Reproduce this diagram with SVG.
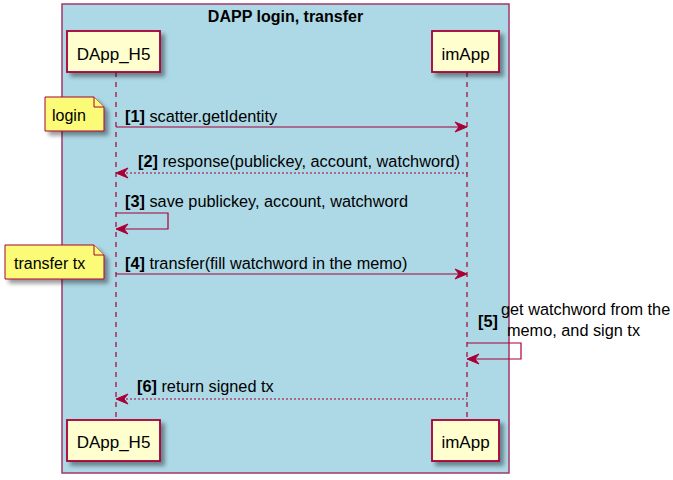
<svg xmlns="http://www.w3.org/2000/svg" width="673" height="480" viewBox="0 0 673 480">
<style>
text{font-family:"Liberation Sans",Arial,sans-serif;fill:#000}
.t{font-size:16.3px}
.h{font-size:16px}
.p{font-size:17px}
.b{font-weight:bold}
.part{fill:#FEFECE;stroke:#A80036;stroke-width:1.8}
.note{fill:#FBFB77;stroke:#A80036;stroke-width:1}
.life{stroke:#A80036;stroke-width:1.2;stroke-dasharray:5,5;fill:none}
.msg{stroke:#A80036;stroke-width:1.2;fill:none}
.dot{stroke:#A80036;stroke-width:1.2;stroke-dasharray:2,2;fill:none}
.ah{fill:#A80036;stroke:#A80036;stroke-width:1}
</style>
<defs>
<filter id="sh" x="-20%" y="-20%" width="150%" height="160%">
<feGaussianBlur in="SourceAlpha" stdDeviation="2"/>
<feOffset dx="4" dy="4" result="o"/>
<feComponentTransfer><feFuncA type="linear" slope="0.4"/></feComponentTransfer>
<feMerge><feMergeNode/><feMergeNode in="SourceGraphic"/></feMerge>
</filter>
</defs>
<rect width="673" height="480" fill="#fff"/>
<g id="frame">
<rect x="62" y="4" width="447" height="469" fill="#ADD8E6" stroke="#A3376A" stroke-width="1.5"/>
<text class="h b" x="285.5" y="22" text-anchor="middle">DAPP login, transfer</text>
</g>
<g id="lifelines">
<line class="life" x1="116" y1="72" x2="116" y2="420"/>
<line class="life" x1="467" y1="72" x2="467" y2="420"/>
</g>
<g id="DApp_H5">
<rect class="part" x="67" y="31" width="93" height="41" filter="url(#sh)"/>
<text class="p" x="113.5" y="60" text-anchor="middle">DApp_H5</text>
<rect class="part" x="67" y="420" width="93" height="41" filter="url(#sh)"/>
<text class="p" x="113.5" y="448" text-anchor="middle">DApp_H5</text>
</g>
<g id="imApp">
<rect class="part" x="432" y="31" width="67" height="41" filter="url(#sh)"/>
<text class="p" x="465.5" y="60" text-anchor="middle">imApp</text>
<rect class="part" x="432" y="420" width="67" height="41" filter="url(#sh)"/>
<text class="p" x="465.5" y="448" text-anchor="middle">imApp</text>
</g>
<g id="note_login">
<path class="note" d="M45,97 H94 L104,107 V131 H45 Z" filter="url(#sh)"/>
<path class="note" d="M94,97 V107 H104"/>
<text class="h" x="52" y="121">login</text>
</g>
<g id="note_transfer">
<path class="note" d="M5,245 H94 L104,255 V279 H5 Z" filter="url(#sh)"/>
<path class="note" d="M94,245 V255 H104"/>
<text class="h" x="14" y="269">transfer tx</text>
</g>
<g id="connectors">
<line class="msg" x1="116" y1="127" x2="465" y2="127"/>
<polygon class="ah" points="467,127 455,122 459,127 455,132"/>
<text class="t" x="125" y="122"><tspan class="b">[1]</tspan> scatter.getIdentity</text>

<line class="dot" x1="118" y1="173" x2="467" y2="173"/>
<polygon class="ah" points="116,173 128,168 124,173 128,178"/>
<text class="t" x="138" y="167"><tspan class="b">[2]</tspan> response(publickey, account, watchword)</text>

<polyline class="msg" points="116,213 168,213 168,229 118,229"/>
<polygon class="ah" points="116,229 128,224 124,229 128,234"/>
<text class="t" x="125" y="207"><tspan class="b">[3]</tspan> save publickey, account, watchword</text>

<line class="msg" x1="116" y1="274" x2="465" y2="274"/>
<polygon class="ah" points="467,274 455,269 459,274 455,279"/>
<text class="t" x="125" y="269"><tspan class="b">[4]</tspan> transfer(fill watchword in the memo)</text>

<polyline class="msg" points="467,343 521,343 521,359 469,359"/>
<polygon class="ah" points="467,359 479,354 475,359 479,364"/>
<text class="t b" x="478" y="327">[5]</text>
<text class="t" x="501" y="315">get watchword from the</text>
<text class="t" x="507" y="336">memo, and sign tx</text>

<line class="dot" x1="118" y1="399" x2="467" y2="399"/>
<polygon class="ah" points="116,399 128,394 124,399 128,404"/>
<text class="t" x="137" y="392"><tspan class="b">[6]</tspan> return signed tx</text>
</g>
</svg>
